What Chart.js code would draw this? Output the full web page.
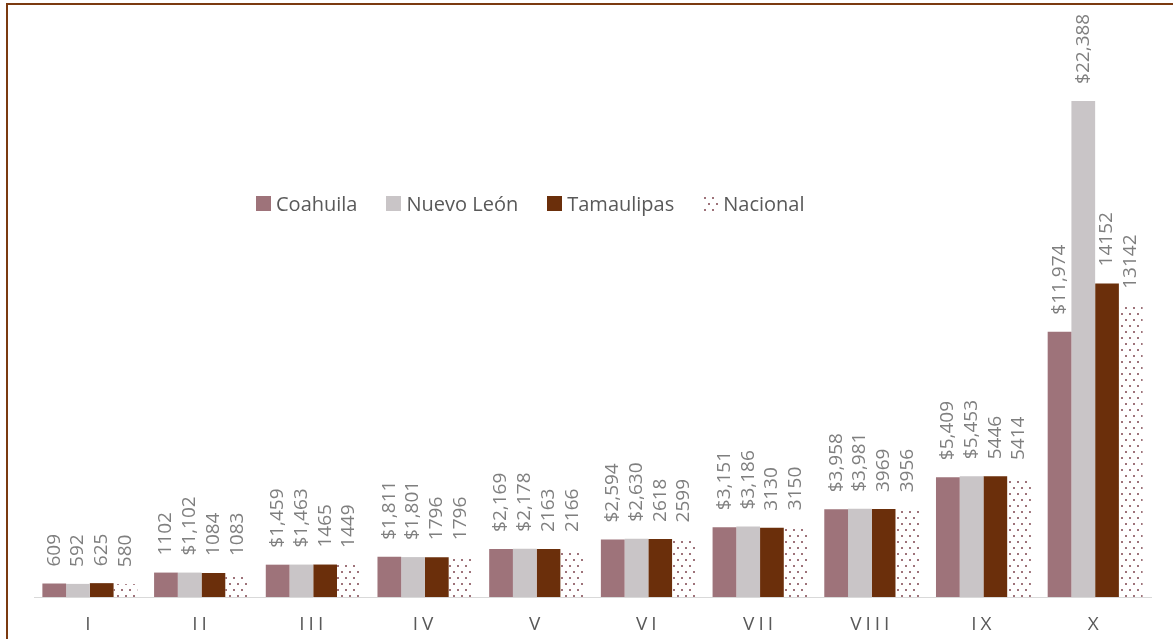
<!DOCTYPE html>
<html>
<head>
<meta charset="utf-8">
<script src="https://cdn.jsdelivr.net/npm/chart.js@4"></script>
<style>
    html, body { margin: 0; padding: 0; background: #fff; overflow: hidden; }
    #wrap { position: relative; width: 1173px; height: 639px; }
    #frame {
        position: absolute; left: 6px; top: 3px; width: 1300px; height: 800px;
        border-left: 2px solid #7b3a10; border-top: 2px solid #7b3a10;
        pointer-events: none;
    }
    #chart { position: absolute; left: 0; top: 0; }
    #legend {
        position: absolute; left: 256px; top: 190px;
        display: flex; align-items: center;
        font-family: "Open Sans", sans-serif; font-size: 20px; color: #595959;
    }
    .item { display: flex; align-items: center; margin-right: 29px; }
    .box { width: 15px; height: 15px; margin-right: 5px; }
</style>
</head>
<body>
<div id="wrap">
    <canvas id="chart" width="1173" height="639"></canvas>
    <div id="frame"></div>
    <div id="legend"></div>
</div>
<script>
// Categories (deciles)
const categories = ['I', 'II', 'III', 'IV', 'V', 'VI', 'VII', 'VIII', 'IX', 'X'];

// Series names
const seriesNames = ['Coahuila', 'Nuevo León', 'Tamaulipas', 'Nacional'];

// Series values
const coahuila   = [609, 1102, 1459, 1811, 2169, 2594, 3151, 3958, 5409, 11974];
const nuevoLeon  = [592, 1102, 1463, 1801, 2178, 2630, 3186, 3981, 5453, 22388];
const tamaulipas = [625, 1084, 1465, 1796, 2163, 2618, 3130, 3969, 5446, 14152];
const nacional   = [580, 1083, 1449, 1796, 2166, 2599, 3150, 3956, 5414, 13142];

// Which data labels are shown in currency format ($1,234) vs plain
const coahuilaMoney   = [false, false, true, true, true, true, true, true, true, true];
const nuevoLeonMoney  = [false, true, true, true, true, true, true, true, true, true];
const tamaulipasMoney = [false, false, false, false, false, false, false, false, false, false];
const nacionalMoney   = [false, false, false, false, false, false, false, false, false, false];

const seriesColors = ['#9e737a', '#c9c5c7', '#6b2f0b'];
const dotColor = '#9e737a';

function makeDotPattern() {
    const c = document.createElement('canvas');
    c.width = 8;
    c.height = 12;
    const g = c.getContext('2d');
    g.fillStyle = '#ffffff';
    g.fillRect(0, 0, 8, 12);
    g.fillStyle = dotColor;
    g.fillRect(1, 1, 2, 2);
    g.fillRect(5, 7, 2, 2);
    return c;
}

const patternCanvas = makeDotPattern();
const ctx = document.getElementById('chart').getContext('2d');
const dotPattern = ctx.createPattern(patternCanvas, 'repeat');

function formatLabel(value, money) {
    if (!money) return String(value);
    return '$' + value.toLocaleString('en-US');
}

// Draw rotated value labels above each bar
const barLabels = {
    id: 'barLabels',
    afterDatasetsDraw(chart) {
        const c = chart.ctx;
        c.save();
        c.font = '19px "Open Sans", sans-serif';
        c.fillStyle = '#7f7f7f';
        c.textAlign = 'left';
        c.textBaseline = 'middle';
        chart.data.datasets.forEach((ds, i) => {
            const meta = chart.getDatasetMeta(i);
            meta.data.forEach((bar, j) => {
                c.save();
                c.translate(bar.x, bar.y - 17);
                c.rotate(-Math.PI / 2);
                c.fillText(formatLabel(ds.data[j], ds.money[j]), 0, 0);
                c.restore();
            });
        });
        c.restore();
    }
};

// Spread out the axis letters like the original
const tickSpacing = {
    id: 'tickSpacing',
    beforeDraw(chart) { chart.ctx.letterSpacing = '4px'; },
    beforeDatasetsDraw(chart) { chart.ctx.letterSpacing = '0px'; }
};

const chart = new Chart(ctx, {
    type: 'bar',
    data: {
        labels: categories,
        datasets: [
            { label: seriesNames[0], data: coahuila, money: coahuilaMoney, backgroundColor: seriesColors[0] },
            { label: seriesNames[1], data: nuevoLeon, money: nuevoLeonMoney, backgroundColor: seriesColors[1] },
            { label: seriesNames[2], data: tamaulipas, money: tamaulipasMoney, backgroundColor: seriesColors[2] },
            { label: seriesNames[3], data: nacional, money: nacionalMoney, backgroundColor: dotPattern }
        ]
    },
    options: {
        responsive: false,
        animation: false,
        layout: {
            padding: { left: 34, right: 22, top: 43, bottom: 3 }
        },
        datasets: {
            bar: {
                categoryPercentage: 0.85,
                barPercentage: 1.0,
                borderWidth: 0
            }
        },
        plugins: {
            legend: { display: false },
            tooltip: { enabled: false }
        },
        scales: {
            x: {
                grid: { display: false, drawTicks: false },
                border: { display: true, color: '#d9d9d9', width: 1 },
                ticks: {
                    color: '#595959',
                    padding: 16,
                    font: { family: '"Open Sans", sans-serif', size: 19 }
                },
                afterFit(scale) { scale.height = 39; }
            },
            y: {
                display: false,
                min: 0,
                max: 25000
            }
        }
    },
    plugins: [barLabels, tickSpacing]
});

// HTML legend built from the datasets
const legend = document.getElementById('legend');
chart.data.datasets.forEach((ds, i) => {
    const item = document.createElement('div');
    item.className = 'item';
    const box = document.createElement('span');
    box.className = 'box';
    if (i < seriesColors.length) {
        box.style.background = seriesColors[i];
    } else {
        box.style.backgroundImage = `url(${patternCanvas.toDataURL()})`;
    }
    const text = document.createElement('span');
    text.textContent = ds.label;
    item.appendChild(box);
    item.appendChild(text);
    legend.appendChild(item);
});
</script>
</body>
</html>
